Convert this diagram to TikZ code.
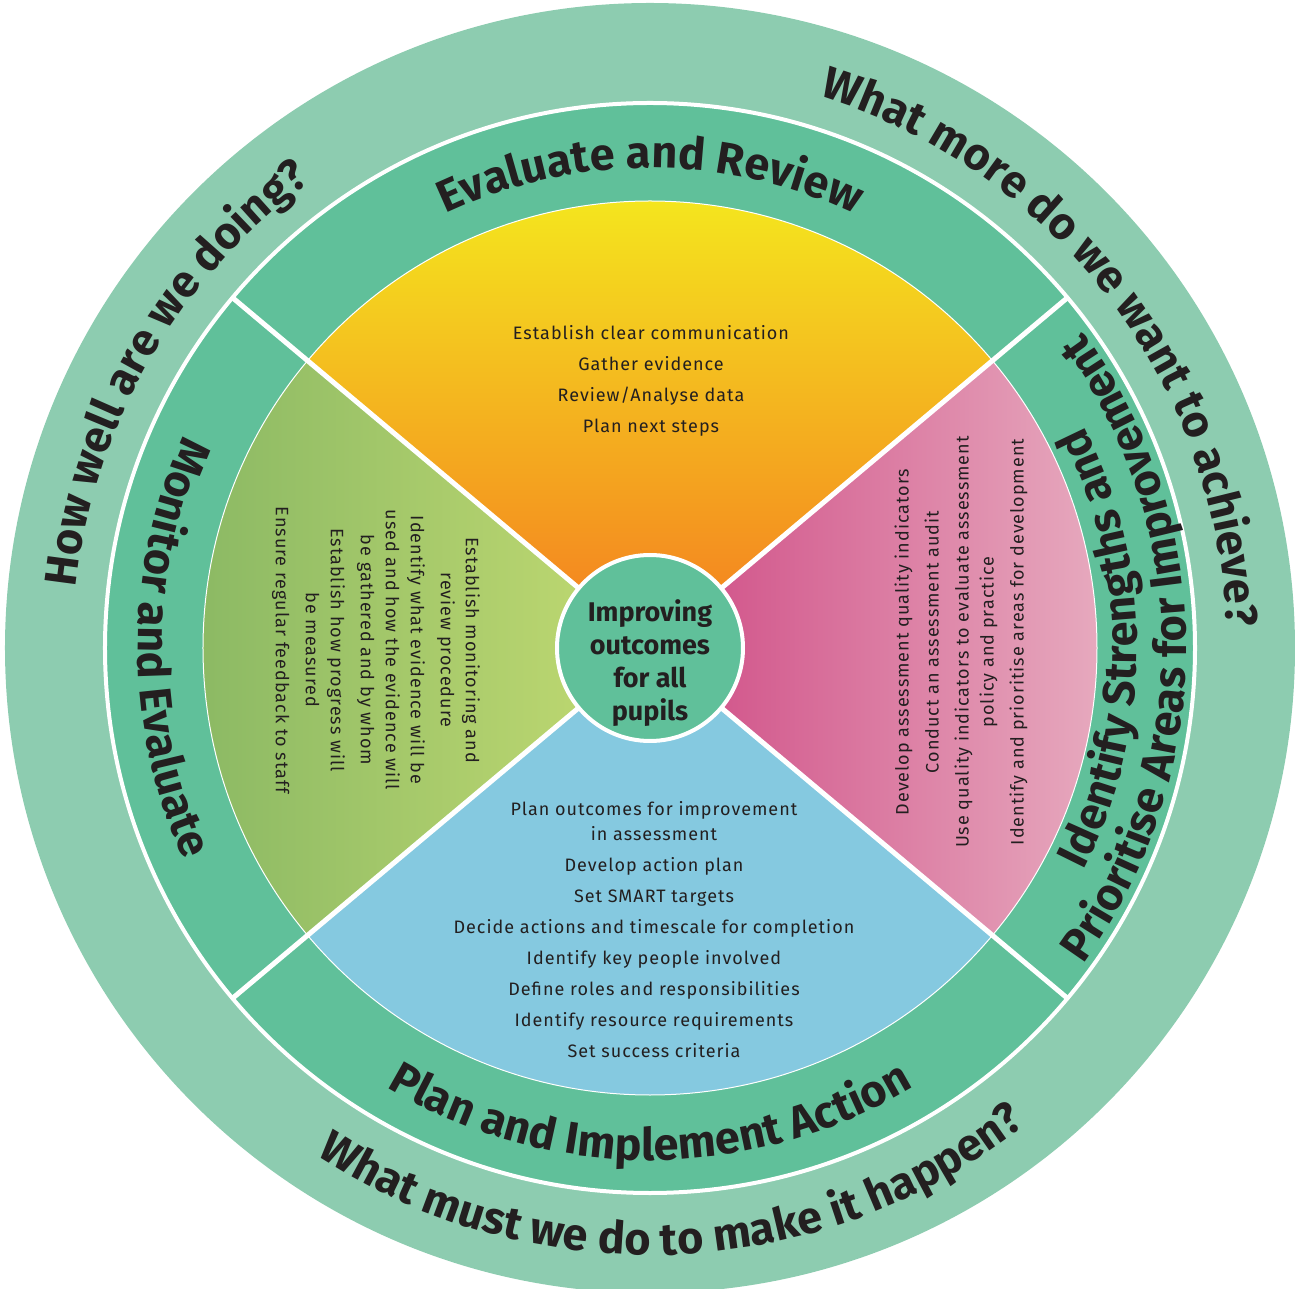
\documentclass[tikz,border=0pt]{standalone}
\usepackage{fontspec}
\setmainfont{Fira Sans}
\newfontfamily\listface{Fira Sans}[LetterSpace=5.5]
\usetikzlibrary{decorations.text}
\definecolor{outerring}{HTML}{8DCCB0}
\definecolor{midring}{HTML}{60C09A}
\definecolor{inkdark}{HTML}{231F20}
\definecolor{sunyellow}{HTML}{F4EA1E}
\definecolor{sunorange}{HTML}{F47B20}
\definecolor{pinkdark}{HTML}{CF4A84}
\definecolor{pinklight}{HTML}{E8B0C2}
\definecolor{leafdark}{HTML}{88B763}
\definecolor{leaflight}{HTML}{C3DB72}
\definecolor{skyblue}{HTML}{85C9E0}
\newcommand{\listfont}{\listface\fontsize{18}{25}\selectfont}
\newcommand{\hubfont}{\fontsize{27}{33}\selectfont\bfseries}
\newcommand{\ringfont}{\fontsize{45}{45}\selectfont\bfseries}
\newcommand{\rimfont}{\fontsize{45}{45}\selectfont\bfseries}
\begin{document}
\begin{tikzpicture}[x=1pt,y=1pt,
    hubtext/.style={align=center,font=\hubfont,text=inkdark},
    listtext/.style={align=center,font=\listfont,text=inkdark},
    arctext/.style={decorate,decoration={text along path,text align=center,text color=inkdark,text={#1}}}]
    \useasboundingbox (-650,-641) rectangle (645,648);
    \fill[outerring] (0,0) circle (645);
    \fill[midring] (0,0) circle (545);
    \shade[top color=sunyellow,bottom color=sunorange] (0,0) -- (40:447) arc[start angle=40,end angle=140,radius=447] -- cycle;
    \shade[left color=leafdark,right color=leaflight] (0,0) -- (140:447) arc[start angle=140,end angle=220,radius=447] -- cycle;
    \fill[skyblue] (0,0) -- (220:447) arc[start angle=220,end angle=320,radius=447] -- cycle;
    \shade[left color=pinkdark,right color=pinklight] (0,0) -- (-40:447) arc[start angle=-40,end angle=40,radius=447] -- cycle;
    \draw[white,line width=1pt] (0,0) circle (447);
    \draw[white,line width=4pt] (0,0) circle (545);
    \foreach \a in {40,140,220,320}
        \draw[white,line width=5pt] (0,0) -- (\a:545);
    \node[circle,fill=midring,draw=white,line width=4pt,minimum size=186pt,inner sep=0pt] (hub) at (0,0) {};
    \node[hubtext] (hubtext) at (0,-15) {Improving\\outcomes\\for all\\pupils};
    \node[listtext] (reviewlist) at (1,267) {Establish clear communication\\[6pt]Gather evidence\\[6pt]Review/Analyse data\\[6pt]Plan next steps};
    \node[listtext] (actionlist) at (4,-282) {Plan outcomes for improvement\\in assessment\\[6pt]Develop action plan\\[6pt]Set SMART targets\\[6pt]Decide actions and timescale for completion\\[6pt]Identify key people involved\\[6pt]Define roles and responsibilities\\[6pt]Identify resource requirements\\[6pt]Set success criteria};
    \node[listtext,rotate=90] (strengthlist) at (311,6) {Develop assessment quality indicators\\[5pt]Conduct an assessment audit\\[5pt]Use quality indicators to evaluate assessment\\policy and practice\\[5pt]Identify and prioritise areas for development};
    \node[listtext,rotate=-90] (monitorlist) at (-274,-2) {Establish monitoring and\\review procedure\\[5pt]Identify what evidence will be\\used and how the evidence will\\be gathered and by whom\\[5pt]Establish how progress will\\be measured\\[5pt]Ensure regular feedback to staff};
    \path[arctext={|\ringfont|Evaluate and Review}] (150:480) arc[start angle=150,end angle=30,radius=480];
    \path[arctext={|\ringfont|Plan and Implement Action}] (210:512) arc[start angle=210,end angle=330,radius=512];
    \path[arctext={|\ringfont|Monitor and Evaluate}] (130:512) arc[start angle=130,end angle=230,radius=512];
    \path[arctext={|\ringfont|Identify Strengths and}] (-60:487) arc[start angle=-60,end angle=60,radius=487];
    \path[arctext={|\ringfont|Prioritise Areas for Improvement}] (-60:536) arc[start angle=-60,end angle=60,radius=536];
    \path[arctext={|\rimfont|How well are we doing?}] (210:577) arc[start angle=210,end angle=90,radius=577];
    \path[arctext={|\rimfont|What more do we want to achieve?}] (99:577) arc[start angle=99,end angle=-24,radius=577];
    \path[arctext={|\rimfont|What must we do to make it happen?}] (211:607) arc[start angle=211,end angle=334,radius=607];
\end{tikzpicture}
\end{document}
